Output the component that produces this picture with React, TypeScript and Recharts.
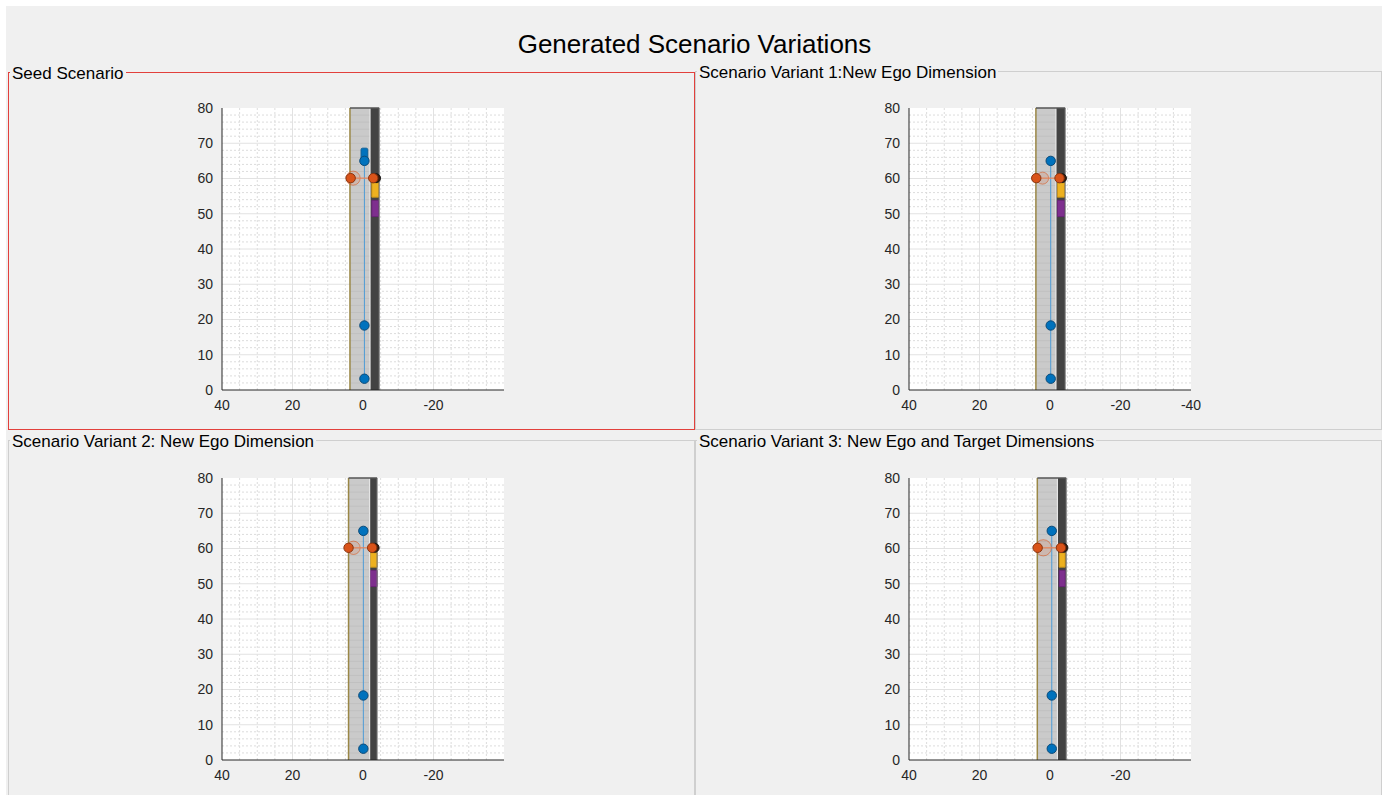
import React from 'react';
import { ComposedChart, Scatter, XAxis, YAxis, CartesianGrid, ReferenceArea, ReferenceLine } from 'recharts';

// ---- data ----
const panelTitles = [
  'Seed Scenario',
  'Scenario Variant 1:New Ego Dimension',
  'Scenario Variant 2: New Ego Dimension',
  'Scenario Variant 3: New Ego and Target Dimensions',
];

const yTicks = [0, 10, 20, 30, 40, 50, 60, 70, 80];
const xTicksPerPanel = [
  [40, 20, 0, -20],
  [40, 20, 0, -20, -40],
  [40, 20, 0, -20],
  [40, 20, 0, -20],
];
const xMajorGrid = [-20, 0, 20];
const xMinorGrid = [-35, -30, -25, -15, -10, -5, 5, 10, 15, 25, 30, 35];
const yMajorGrid = [10, 20, 30, 40, 50, 60, 70];
const yMinorGrid = [2, 4, 6, 8, 12, 14, 16, 18, 22, 24, 26, 28, 32, 34, 36, 38, 42, 44, 46, 48, 52, 54, 56, 58, 62, 64, 66, 68, 72, 74, 76, 78];
const roadStripeY = [2, 4, 6, 8, 10, 12, 14, 16, 18, 20, 22, 24, 26, 28, 30, 32, 34, 36, 38, 40, 42, 44, 46, 48, 50, 52, 54, 56, 58, 60, 62, 64, 66, 68, 70, 72, 74, 76, 78];

const roadLeftEdge = [3.7, 4.0, 4.1, 3.6];
const laneDivider = [-2.0, -1.7, -1.9, -2.1];
const roadRightEdge = [-4.6, -4.3, -4.0, -4.6];
const roadEnd = 80;

const egoPathX = [-0.4, -0.2, -0.1, -0.5];
const egoWaypointY = [3.2, 18.3, 65.0];
// seed ego car: centre, length, width (m)
const seedEgoCar = { x: -0.4, y: 66.9, length: 3.4, width: 1.9 };

const targetY = [60.1, 60.1, 60.2, 60.2];
const targetLeftX = [3.5, 3.9, 4.1, 3.5];
const targetRightX = [-2.9, -2.7, -2.6, -3.1];
const targetShadowX = [-3.7, -3.4, -3.3, -3.8];
const ringX = [2.8, 2.1, 2.7, 1.9];
const ringRadius = [2.0, 1.7, 1.9, 2.3];

const yellowCarX = [[-2.5, -4.4], [-2.1, -4.1], [-2.1, -4.0], [-2.6, -4.3]];
const yellowCarY = [54.7, 58.8];
const purpleCarX = [[-2.5, -4.4], [-2.1, -4.1], [-2.1, -4.0], [-2.6, -4.3]];
const purpleCarY = [49.2, 53.8];

// ---- layout ----
const FONT = '"Liberation Sans", Arial, Helvetica, sans-serif';
const PLOT_W = 282;
const PLOT_H = 282;
const PX_PER_M = PLOT_W / 80;
const AXIS_COLOR = '#262626';

const panels = [
  { left: 8, top: 72, width: 687, height: 358, border: '#e2403c', plotLeft: 222, plotTop: 108 },
  { left: 695, top: 71, width: 687, height: 359, border: '#cfcfcf', plotLeft: 909, plotTop: 108 },
  { left: 8, top: 440, width: 687, height: 400, border: '#cfcfcf', plotLeft: 222, plotTop: 478 },
  { left: 695, top: 440, width: 687, height: 400, border: '#cfcfcf', plotLeft: 909, plotTop: 478 },
];

const dot = (fill: string, stroke: string, r: number) => (props: any) => (
  <circle cx={props.cx} cy={props.cy} r={r} fill={fill} stroke={stroke} strokeWidth={1} />
);

const ring = (radiusM: number) => (props: any) => (
  <circle
    cx={props.cx}
    cy={props.cy}
    r={radiusM * PX_PER_M}
    fill="#D95319"
    fillOpacity={0.15}
    stroke="#D95319"
    strokeOpacity={0.55}
    strokeWidth={1}
  />
);

const carShape = (lengthM: number, widthM: number) => (props: any) => {
  const w = widthM * PX_PER_M;
  const h = lengthM * PX_PER_M;
  return (
    <rect
      x={props.cx - w / 2}
      y={props.cy - h / 2}
      width={w}
      height={h}
      rx={1.5}
      fill="#0072BD"
      stroke="#0a5f99"
      strokeWidth={1}
    />
  );
};

const ScenarioPlot: React.FC<{ i: number }> = ({ i }) => {
  const p = panels[i];
  const egoPts = egoWaypointY.map((y) => ({ x: egoPathX[i], y }));
  const targetPts = [
    { x: targetLeftX[i], y: targetY[i] },
    { x: targetRightX[i], y: targetY[i] },
  ];

  return (
    <div style={{ position: 'absolute', left: p.plotLeft - 50, top: p.plotTop - 10 }}>
      <ComposedChart
        width={50 + PLOT_W + 10}
        height={10 + PLOT_H + 30}
        margin={{ top: 10, right: 10, bottom: 0, left: 0 }}
      >
        <CartesianGrid
          fill="#ffffff"
          stroke="#dcdcdc"
          strokeDasharray="2 2"
          horizontalValues={yMinorGrid}
          verticalValues={xMinorGrid}
        />
        <CartesianGrid
          stroke="#e2e2e2"
          horizontalValues={yMajorGrid}
          verticalValues={xMajorGrid}
        />
        <XAxis
          dataKey="x"
          type="number"
          domain={[-40, 40]}
          reversed
          allowDataOverflow
          ticks={xTicksPerPanel[i]}
          interval={0}
          height={30}
          tickLine={false}
          tickSize={6}
          tickMargin={4}
          axisLine={{ stroke: AXIS_COLOR }}
          tick={{ fill: AXIS_COLOR, fontSize: 14, fontFamily: FONT }}
        />
        <YAxis
          dataKey="y"
          type="number"
          domain={[0, 80]}
          allowDataOverflow
          ticks={yTicks}
          interval={0}
          width={50}
          tickLine={false}
          tickSize={6}
          tickMargin={3}
          axisLine={{ stroke: AXIS_COLOR }}
          tick={{ fill: AXIS_COLOR, fontSize: 14, fontFamily: FONT }}
        />

        {/* road */}
        <ReferenceArea x1={roadLeftEdge[i]} x2={laneDivider[i]} y1={0} y2={roadEnd} fill="#cacaca" fillOpacity={1} stroke="none" />
        <ReferenceArea x1={laneDivider[i]} x2={roadRightEdge[i]} y1={0} y2={roadEnd} fill="#434343" fillOpacity={1} stroke="none" />
        {roadStripeY.map((y) => (
          <ReferenceLine
            key={y}
            segment={[{ x: roadLeftEdge[i], y }, { x: laneDivider[i], y }]}
            stroke="#c0c0c0"
            strokeWidth={1}
          />
        ))}
        <ReferenceLine segment={[{ x: roadLeftEdge[i], y: 0 }, { x: roadLeftEdge[i], y: roadEnd }]} stroke="#9a8746" strokeWidth={1.5} />
        <ReferenceLine segment={[{ x: laneDivider[i], y: 0 }, { x: laneDivider[i], y: roadEnd }]} stroke="#f2f2f2" strokeWidth={1} />
        <ReferenceLine segment={[{ x: roadRightEdge[i], y: 0 }, { x: roadRightEdge[i], y: roadEnd }]} stroke="#7a7a7a" strokeWidth={1} />
        <ReferenceLine segment={[{ x: roadLeftEdge[i], y: roadEnd }, { x: roadRightEdge[i], y: roadEnd }]} stroke="#555555" strokeWidth={1.5} />

        {/* other vehicles */}
        <ReferenceArea x1={yellowCarX[i][0]} x2={yellowCarX[i][1]} y1={yellowCarY[0]} y2={yellowCarY[1]} fill="#EDB120" fillOpacity={1} stroke="#c9941a" />
        <ReferenceArea x1={purpleCarX[i][0]} x2={purpleCarX[i][1]} y1={purpleCarY[0]} y2={purpleCarY[1]} fill="#7E2F8E" fillOpacity={1} stroke="#6a2478" />

        {/* seed ego car */}
        {i === 0 && (
          <Scatter
            data={[{ x: seedEgoCar.x, y: seedEgoCar.y }]}
            shape={carShape(seedEgoCar.length, seedEgoCar.width)}
            isAnimationActive={false}
          />
        )}

        {/* ego path */}
        <Scatter
          data={egoPts}
          line={{ stroke: '#4d9bd6', strokeWidth: 1 }}
          shape={dot('#0072BD', '#0b4a78', 4.7)}
          isAnimationActive={false}
        />

        {/* target waypoints */}
        <Scatter
          data={[{ x: ringX[i], y: targetY[i] }]}
          shape={ring(ringRadius[i])}
          isAnimationActive={false}
        />
        <Scatter
          data={[{ x: targetShadowX[i], y: targetY[i] }]}
          shape={dot('#3a1a0a', '#1a1a1a', 4.5)}
          isAnimationActive={false}
        />
        <Scatter
          data={targetPts}
          line={{ stroke: '#e4845a', strokeWidth: 1.2 }}
          shape={dot('#D95319', '#8a3410', 4.7)}
          isAnimationActive={false}
        />
      </ComposedChart>
    </div>
  );
};

export default function App() {
  return (
    <div
      style={{
        position: 'absolute',
        left: 0,
        top: 0,
        width: 1382,
        height: 795,
        background: '#ffffff',
        overflow: 'hidden',
        fontFamily: FONT,
      }}
    >
      <div style={{ position: 'absolute', left: 6, top: 6, right: 0, bottom: 0, background: '#f0f0f0' }} />
      <div
        style={{
          position: 'absolute',
          left: 0,
          width: 1389,
          top: 30,
          textAlign: 'center',
          fontSize: 26,
          lineHeight: '28px',
          color: '#000',
        }}
      >
        Generated Scenario Variations
      </div>

      {panels.map((p, i) => (
        <React.Fragment key={i}>
          <div
            style={{
              position: 'absolute',
              left: p.left,
              top: p.top,
              width: p.width,
              height: p.height,
              boxSizing: 'border-box',
              border: `1px solid ${p.border}`,
            }}
          />
          <div
            style={{
              position: 'absolute',
              left: p.left + 2,
              top: p.top - 8,
              padding: '0 2px',
              background: '#f0f0f0',
              fontSize: 17,
              lineHeight: '20px',
              color: '#000',
              whiteSpace: 'nowrap',
            }}
          >
            {panelTitles[i]}
          </div>
          <ScenarioPlot i={i} />
        </React.Fragment>
      ))}
    </div>
  );
}
